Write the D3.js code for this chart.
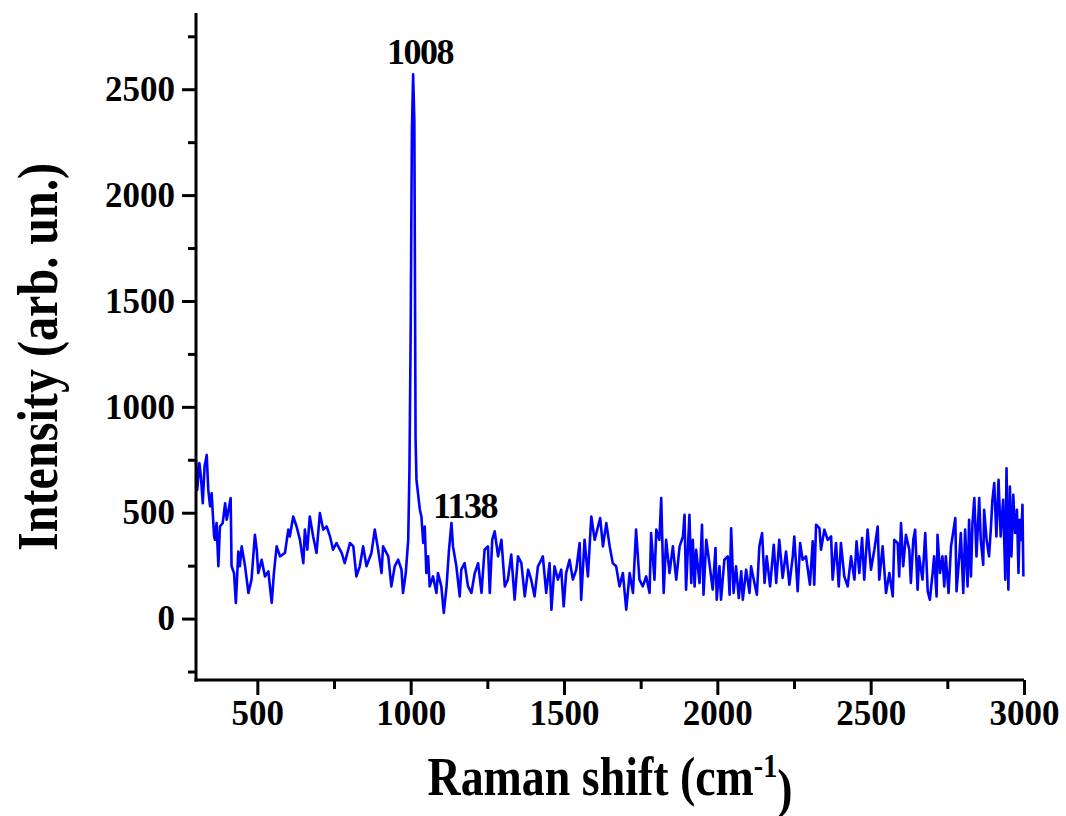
<!DOCTYPE html>
<html>
<head>
<meta charset="utf-8">
<script src="https://d3js.org/d3.v7.min.js"></script>
<style>
	body { margin: 0; background: #fff; }
	svg text { font-family: "Liberation Serif", "Times New Roman", serif; font-weight: bold; fill: #000; }
</style>
</head>
<body>
<svg id="chart" width="1066" height="816"></svg>
<script>
// spectrum: [Raman shift (cm-1), intensity]
let spectrum = [
	[300,750],[304,608],[311,734],[316,671],[322,545],[328,718],[335,773],[340,608],[346,530],[351,592],
	[359,388],[362,372],[367,451],[373,247],[378,435],[387,451],[395,545],[400,467],[408,530],[413,569],
	[416,247],[424,215],[430,74],[438,317],[443,247],[449,341],[460,247],[471,121],[481,184],[492,396],
	[498,325],[503,215],[514,278],[525,199],[536,223],[541,152],[547,74],[554,215],[563,341],[574,294],
	[590,310],[601,420],[606,388],[617,482],[628,435],[639,372],[650,262],[655,420],[663,325],[671,482],
	[682,388],[693,310],[704,498],[715,420],[726,435],[737,388],[747,325],[758,357],[775,310],[785,262],
	[802,357],[813,341],[823,199],[834,247],[845,341],[856,247],[872,310],[883,420],[894,325],[905,215],
	[910,341],[927,294],[937,152],[948,247],[959,278],[970,231],[975,121],[984,215],[992,372],[996,700],
	[1000,1350],[1004,2300],[1008,2571],[1012,2350],[1014,1600],[1016,850],[1019,655],[1030,514],[1035,482],[1041,357],
	[1046,435],[1051,215],[1057,294],[1062,152],[1073,199],[1084,121],[1089,215],[1100,152],[1108,27],[1117,152],
	[1125,325],[1133,451],[1138,341],[1149,247],[1160,105],[1165,231],[1176,262],[1187,152],[1198,121],[1209,215],
	[1220,262],[1231,121],[1241,325],[1252,341],[1258,121],[1266,372],[1274,412],[1285,294],[1296,372],[1307,152],
	[1317,184],[1328,302],[1339,89],[1350,294],[1361,262],[1372,105],[1383,231],[1393,184],[1404,105],[1415,247],
	[1426,278],[1431,294],[1442,121],[1453,262],[1459,42],[1469,247],[1480,184],[1491,231],[1499,58],[1507,215],
	[1518,278],[1529,184],[1540,231],[1551,357],[1556,89],[1567,372],[1578,199],[1589,482],[1600,372],[1611,435],
	[1618,475],[1627,341],[1638,451],[1649,341],[1659,262],[1670,247],[1681,152],[1692,215],[1703,42],[1714,215],
	[1725,121],[1735,420],[1746,184],[1757,152],[1768,199],[1779,121],[1784,404],[1795,184],[1801,420],[1811,372],
	[1817,569],[1825,121],[1833,372],[1844,215],[1855,341],[1866,184],[1877,341],[1888,388],[1893,490],[1898,137],
	[1909,490],[1915,168],[1920,372],[1926,152],[1931,325],[1942,168],[1950,443],[1955,113],[1964,372],[1974,262],
	[1985,137],[1994,333],[1998,89],[2007,247],[2012,89],[2023,278],[2034,294],[2040,113],[2045,427],[2053,121],
	[2061,247],[2070,97],[2078,223],[2083,89],[2094,231],[2105,121],[2110,247],[2121,168],[2129,113],[2137,341],
	[2146,404],[2154,168],[2161,294],[2172,152],[2184,349],[2192,168],[2202,372],[2213,192],[2224,317],[2235,160],
	[2246,294],[2251,388],[2262,129],[2270,357],[2278,278],[2289,294],[2302,160],[2311,365],[2316,160],[2322,443],
	[2333,427],[2338,325],[2349,420],[2360,372],[2371,388],[2376,184],[2387,357],[2396,152],[2403,357],[2414,199],
	[2425,152],[2436,294],[2447,184],[2454,365],[2463,215],[2472,380],[2479,184],[2490,420],[2501,231],[2512,325],
	[2523,435],[2528,184],[2539,341],[2550,121],[2561,215],[2572,105],[2577,372],[2588,357],[2593,199],[2599,451],
	[2606,247],[2615,396],[2626,325],[2631,168],[2639,372],[2645,420],[2653,137],[2658,294],[2669,184],[2678,404],
	[2686,129],[2693,89],[2702,215],[2707,294],[2715,105],[2718,396],[2726,215],[2734,294],[2740,152],[2745,294],
	[2754,121],[2762,341],[2767,388],[2776,475],[2780,129],[2789,294],[2794,404],[2802,121],[2808,420],[2816,152],
	[2821,467],[2827,199],[2832,451],[2838,569],[2845,294],[2854,569],[2859,372],[2867,254],[2870,514],[2878,372],
	[2886,294],[2892,427],[2897,561],[2903,640],[2910,388],[2917,655],[2924,388],[2932,561],[2939,184],[2943,710],
	[2949,137],[2954,624],[2959,294],[2965,585],[2971,404],[2977,514],[2982,215],[2986,467],[2991,372],[2995,537],
	[2998,199]
];

let xDomain = [300, 3000];
let yDomain = [-290, 2860];
let xMajor = [500, 1000, 1500, 2000, 2500, 3000];
let xMinor = [750, 1250, 1750, 2250, 2750];
let yMajor = [0, 500, 1000, 1500, 2000, 2500];
let yMinor = [-250, 250, 750, 1250, 1750, 2250, 2750];
let peaks = [[1008, 2571], [1138, 451]];

let plotLeft = 196, plotRight = 1024, plotTop = 13, plotBottom = 680;

var svg = d3.select('#chart');

var x = d3.scaleLinear().domain(xDomain).range([plotLeft, plotRight]);
var y = d3.scaleLinear().domain(yDomain).range([plotBottom, plotTop]);

// spectrum line, drawn under the axes
var line = d3.line()
	.x(function(d){return x(d[0])})
	.y(function(d){return y(d[1])});

svg.append('path')
	.datum(spectrum)
	.attr('d', line)
	.attr('fill', 'none')
	.attr('stroke', '#0000ff')
	.attr('stroke-width', 2.6)
	.attr('stroke-linejoin', 'round');

function styleAxis(g){
	g.selectAll('path, line').attr('stroke', '#000').attr('stroke-width', 3);
	g.selectAll('text').style('font-size', '35px');
}

// x axis (major + minor ticks)
svg.append('g')
	.attr('transform', 'translate(0,' + plotBottom + ')')
	.call(d3.axisBottom(x).tickValues(xMajor).tickSize(15).tickSizeOuter(0).tickPadding(5).tickFormat(d3.format('d')))
	.call(styleAxis)
	.call(function(g){ g.select('.domain').attr('d', 'M' + (plotLeft - 1.5) + ',0H' + plotRight); });
svg.append('g')
	.attr('transform', 'translate(0,' + plotBottom + ')')
	.call(d3.axisBottom(x).tickValues(xMinor).tickSize(9).tickFormat(''))
	.call(styleAxis)
	.call(function(g){ g.select('.domain').remove(); });

// y axis
svg.append('g')
	.attr('transform', 'translate(' + plotLeft + ',0)')
	.call(d3.axisLeft(y).tickValues(yMajor).tickSize(14).tickSizeOuter(0).tickPadding(7).tickFormat(d3.format('d')))
	.call(styleAxis)
	.call(function(g){ g.select('.domain').attr('d', 'M0,' + (plotBottom + 1.5) + 'V' + plotTop); });
svg.append('g')
	.attr('transform', 'translate(' + plotLeft + ',0)')
	.call(d3.axisLeft(y).tickValues(yMinor).tickSize(8).tickFormat(''))
	.call(styleAxis)
	.call(function(g){ g.select('.domain').remove(); });

// peak labels
svg.append('text')
	.attr('x', x(peaks[0][0]) + 7)
	.attr('y', y(peaks[0][1]) - 10)
	.attr('text-anchor', 'middle')
	.style('font-size', '36px')
	.style('letter-spacing', '-1.5px')
	.text(peaks[0][0]);
svg.append('text')
	.attr('x', x(peaks[1][0]) - 20)
	.attr('y', y(peaks[1][1]) - 5)
	.attr('text-anchor', 'start')
	.style('font-size', '36px')
	.style('letter-spacing', '-1.5px')
	.text(peaks[1][0]);

// axis titles (condensed bold serif)
var xt = svg.append('g')
	.attr('transform', 'translate(' + ((plotLeft + plotRight) / 2) + ',795) scale(0.85,1)')
	.append('text')
	.attr('text-anchor', 'middle')
	.style('font-size', '54px');
xt.append('tspan').text('Raman shift (cm');
xt.append('tspan').attr('dy', '-0.55em').style('font-size', '33px').text('-1');
xt.append('tspan').attr('dy', '0.55em').text(')');

svg.append('g')
	.attr('transform', 'translate(57,357) rotate(-90) scale(0.86,1)')
	.append('text')
	.attr('text-anchor', 'middle')
	.style('font-size', '56px')
	.text('Intensity (arb. un.)');
</script>
</body>
</html>
